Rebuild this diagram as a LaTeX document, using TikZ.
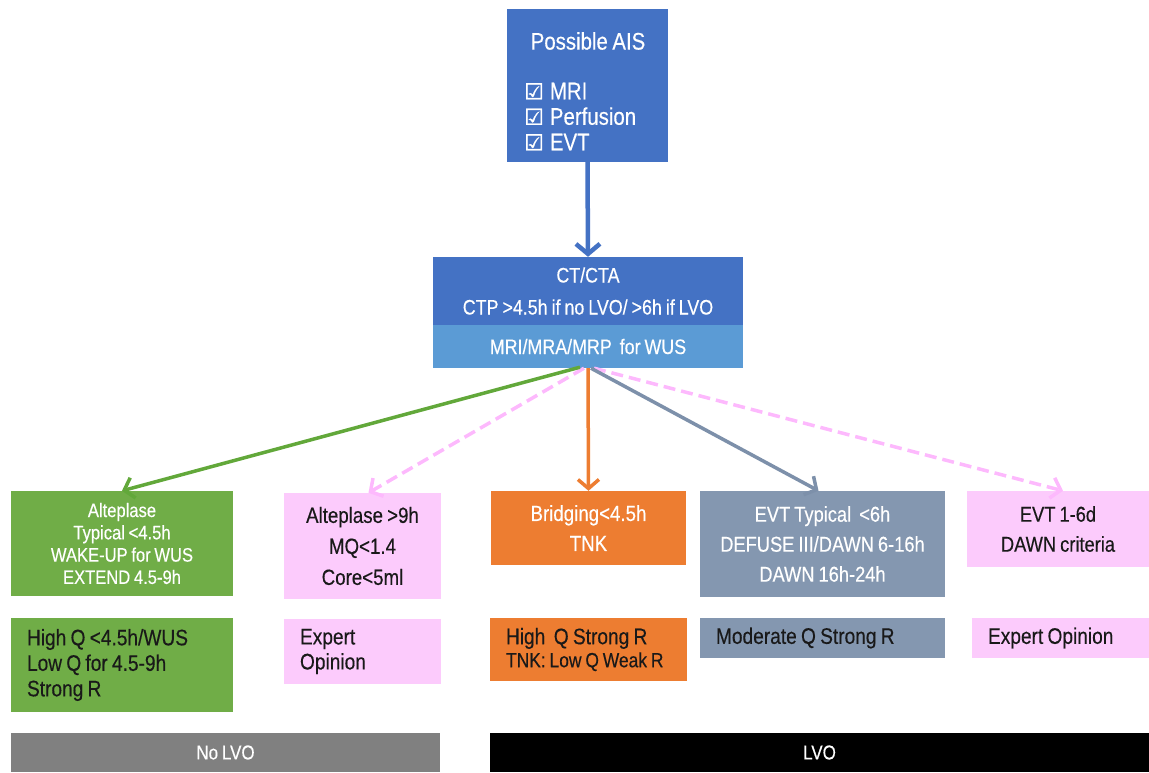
\documentclass[tikz,border=0pt]{standalone}
\usepackage{fontspec}
\setmainfont{Liberation Sans}[FakeStretch=0.85, WordSpace=0.8, FakeBold=0.3]
\newfontfamily\dejavu{DejaVu Sans}[FakeBold=1.5]
\usetikzlibrary{arrows.meta}
\definecolor{aisblue}{HTML}{4472C4}
\definecolor{ltblue}{HTML}{5B9BD5}
\definecolor{grn}{HTML}{70AD47}
\definecolor{pnk}{HTML}{FCCBFC}
\definecolor{orn}{HTML}{ED7D31}
\definecolor{slt}{HTML}{8497B0}
\definecolor{pnkline}{HTML}{FDB9FD}
\definecolor{grnline}{HTML}{62A83A}
\definecolor{sltline}{HTML}{7D90AA}
\definecolor{barg}{HTML}{808080}
\newcommand{\chk}{{\dejavu\fontsize{22}{22}\selectfont ☑}\hspace{6pt}}
\newcommand{\nsp}{\spaceskip=0pt\xspaceskip=0pt\relax}
\begin{document}
\begin{tikzpicture}[x=1pt,y=-1pt,
  box/.style={draw=none, inner sep=0pt, align=center},
  wtxt/.style={text=white},
  ktxt/.style={text=black!90},
  lbox/.style={box, align=left, inner xsep=16pt, inner ysep=0pt},
  arr/.style={line width=3.5pt, -{Straight Barb[length=9pt,width=21pt]}},
  dsh/.style={arr, color=pnkline, dash pattern=on 12pt off 6pt}
]
\useasboundingbox (0,0) rectangle (1149,772);

% top box
\node[box, fill=aisblue, minimum width=161pt, minimum height=153pt] (ais) at (587.5,85.5) {};
\node[box, wtxt, font=\fontsize{24}{26}\selectfont] (aist) at (588,41) {Possible AIS};
\node[box, wtxt, anchor=west, align=left, font=\fontsize{24}{25.5}\selectfont] (aisl) at (524,116.5)
  {\chk MRI\\ \chk Perfusion\\ \chk EVT};

% CT box
\node[box, fill=aisblue, wtxt, minimum width=310pt, minimum height=68pt, font=\fontsize{21}{32}\selectfont] (ct) at (588,291)
  {CT/CTA\\CTP >4.5h if no LVO/ >6h if LVO};
\node[box, fill=ltblue, wtxt, minimum width=310pt, minimum height=43pt, font=\fontsize{21}{24}\selectfont] (ctb) at (588,346.5)
  {MRI/MRA/MRP\ \ for WUS};

% first row
\node[box, fill=grn, wtxt, minimum width=222pt, minimum height=105pt, font=\fontsize{19.5}{22.3}\selectfont] (g1) at (122,543.5)
  {Alteplase\\Typical <4.5h\\WAKE-UP for WUS\\EXTEND 4.5-9h};
\node[box, fill=pnk, ktxt, minimum width=157pt, minimum height=106pt, font=\fontsize{22}{31}\selectfont] (p1) at (362.5,546)
  {Alteplase >9h\\MQ<1.4\\Core<5ml};
\node[box, fill=orn, wtxt, minimum width=195pt, minimum height=74pt, font=\fontsize{22}{30}\selectfont] (o1) at (588.5,528)
  {Bridging<4.5h\\TNK};
\node[box, fill=slt, wtxt, minimum width=245pt, minimum height=106pt, font=\fontsize{21.5}{30}\selectfont] (s1) at (822.5,544)
  {EVT Typical \ <6h\\DEFUSE III/DAWN 6-16h\\DAWN 16h-24h};
\node[box, fill=pnk, ktxt, minimum width=182pt, minimum height=76pt, font=\fontsize{21.5}{30}\selectfont] (r1) at (1058,529)
  {EVT 1-6d\\DAWN criteria};

% second row
\node[lbox, fill=grn, ktxt, text width=190pt, minimum height=94pt, font=\fontsize{22.5}{25.5}\selectfont] (g2) at (122,665)
  {\nsp High Q <4.5h/WUS\\Low Q for 4.5-9h\\Strong R};
\node[lbox, fill=pnk, ktxt, text width=125pt, minimum height=65pt, font=\fontsize{22.5}{25}\selectfont] (p2) at (362.5,651.5)
  {\nsp Expert\\Opinion};
\node[lbox, fill=orn, ktxt, text width=165pt, minimum height=63pt, font=\fontsize{22.5}{23}\selectfont] (o2) at (588.5,649.5)
  {\nsp High\ \ Q Strong R\\{\fontsize{20.5}{23}\selectfont\nsp TNK: Low Q Weak R}};
\node[lbox, fill=slt, ktxt, text width=213pt, minimum height=40pt, font=\fontsize{22.5}{25}\selectfont] (s2) at (822.5,638)
  {\nsp Moderate Q Strong R};
\node[lbox, fill=pnk, ktxt, text width=145pt, minimum height=40pt, font=\fontsize{22.5}{25}\selectfont] (r2) at (1060.5,638)
  {\nsp Expert Opinion};

% bottom bars
\node[box, fill=barg, wtxt, minimum width=429pt, minimum height=39pt, font=\fontsize{20}{22}\selectfont] (nolvo) at (225.5,752.5) {No LVO};
\node[box, fill=black, wtxt, minimum width=659pt, minimum height=39pt, font=\fontsize{20}{22}\selectfont] (lvo) at (819.5,752.5) {LVO};

% connectors
\draw[arr, color=aisblue, line width=4.5pt, -{Straight Barb[length=10pt,width=24pt]}] (ais.south) -- (ct.north);
\draw[dsh] ([xshift=-4pt]ctb.south) -- ([xshift=6pt]p1.north);
\draw[dsh] ([xshift=6pt]ctb.south) -- ([xshift=5pt]r1.north);
\draw[arr, color=grnline] ([xshift=-8pt,yshift=1pt]ctb.south) -- (g1.north);
\draw[arr, color=orn] (ctb.south) -- (o1.north);
\draw[arr, color=sltline] ([xshift=3pt]ctb.south) -- ([xshift=-4pt]s1.north);
\end{tikzpicture}
\end{document}
